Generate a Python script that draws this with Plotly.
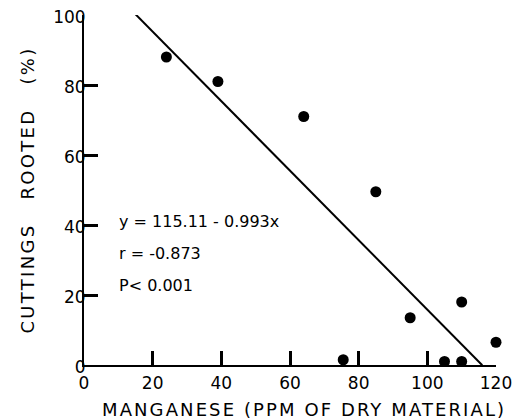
import plotly.graph_objects as go

# Data
manganese = [24, 39, 64, 85, 95, 110, 120, 75.5, 105, 110]
rooted = [88, 81, 71, 49.5, 13.5, 18, 6.5, 1.5, 1, 1]

# Regression line y = 115.11 - 0.993x, drawn between these x values
line_x = [15, 116]
intercept = 115.11
slope = -0.993
line_y = [intercept + slope * v for v in line_x]

x_ticks = [0, 20, 40, 60, 80, 100, 120]
y_ticks = [0, 20, 40, 60, 80, 100]

FONT = "DejaVu Sans"
SP = '<span style="letter-spacing:{}px">{}</span>'

fig = go.Figure()
fig.add_trace(go.Scatter(x=line_x, y=line_y, mode="lines",
                         line=dict(color="black", width=2), hoverinfo="skip"))
fig.add_trace(go.Scatter(x=manganese, y=rooted, mode="markers",
                         marker=dict(color="black", size=11), cliponaxis=False))

# page body has an 8px margin, so the figure is 8px smaller than the window
fig.update_layout(
    template="none",
    width=513, height=412,
    margin=dict(l=76, r=25, t=7, b=55, autoexpand=False),
    paper_bgcolor="white", plot_bgcolor="white",
    showlegend=False,
    font=dict(family=FONT, color="black", size=17),
    xaxis=dict(range=[0, 120], tickmode="array", tickvals=x_ticks,
               ticktext=[str(v) for v in x_ticks],
               ticks="inside", ticklen=14, tickwidth=2.5, tickcolor="black",
               showline=True, linecolor="black", linewidth=2,
               showgrid=False, zeroline=False, automargin=False,
               ticklabeloverflow="allow", ticklabelstandoff=2),
    yaxis=dict(range=[0, 100], tickmode="array", tickvals=y_ticks,
               ticktext=[str(v) for v in y_ticks],
               ticks="inside", ticklen=14, tickwidth=2.5, tickcolor="black",
               showline=True, linecolor="black", linewidth=2,
               showgrid=False, zeroline=False, automargin=False,
               ticklabelstandoff=-7, ticklabeloverflow="allow", ticklabelshift=2,
               title=dict(text=SP.format(2.3, "CUTTINGS   ROOTED   (%)"),
                          font=dict(size=18), standoff=14)),
)

# x-axis title, centred where the reference puts it
fig.add_annotation(x=0.535, y=-0.128, xref="paper", yref="paper",
                   xanchor="center", yanchor="middle", showarrow=False,
                   text=SP.format(2.1, "MANGANESE (PPM OF DRY MATERIAL)"),
                   font=dict(size=18))

fig.add_annotation(x=9.6, y=41, xref="x", yref="y", xanchor="left",
                   text="y = 115.11 - 0.993x", showarrow=False, font=dict(size=16))
fig.add_annotation(x=9.6, y=32, xref="x", yref="y", xanchor="left",
                   text="r = -0.873", showarrow=False, font=dict(size=16))
fig.add_annotation(x=9.6, y=22.6, xref="x", yref="y", xanchor="left",
                   text="P&lt; 0.001", showarrow=False, font=dict(size=16))

fig.write_html("out.html")
